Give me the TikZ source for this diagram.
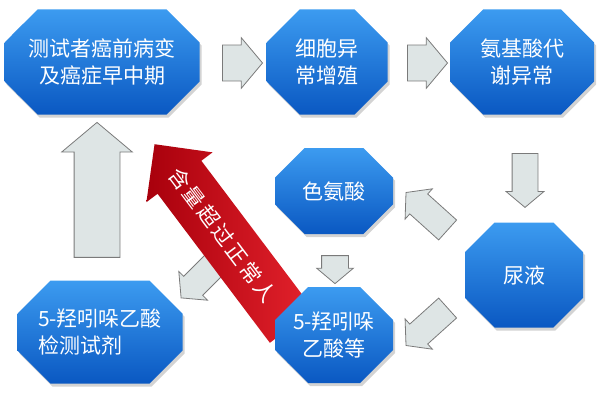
\documentclass[tikz,border=0pt]{standalone}
\usepackage{fontspec}
\setmainfont{Noto Sans CJK SC}
\newfontfamily\redfont[LetterSpace=12]{Noto Sans CJK SC}
\usetikzlibrary{shapes.misc,shapes.arrows,shadows}
\definecolor{boxtop}{HTML}{3C9BF0}
\definecolor{boxbot}{HTML}{0A58C2}
\definecolor{arrfill}{HTML}{DEE5E5}
\definecolor{arrline}{HTML}{7A7A7A}
\definecolor{redtip}{HTML}{A8000C}
\definecolor{redtail}{HTML}{E4222C}
\tikzset{
  blk/.style={chamfered rectangle, chamfered rectangle xsep=13pt, chamfered rectangle ysep=20pt,
    top color=boxtop, bottom color=boxbot, text=white, align=center,
    font=\fontsize{21}{27}\selectfont, inner sep=0pt,
    drop shadow={shadow xshift=2pt, shadow yshift=-3pt, opacity=.35}},
  garrow/.style={single arrow, fill=arrfill, draw=arrline, line width=0.8pt,
    single arrow tip angle=100, inner xsep=0pt}
}
\begin{document}
\begin{tikzpicture}[x=1pt,y=1pt]
\useasboundingbox (0,0) rectangle (600,400);
% gray block arrows
\node[garrow, minimum height=40pt, inner ysep=17.5pt, single arrow head extend=7.5pt] (a12) at (235,337){};
\node[garrow, minimum height=40pt, inner ysep=17.5pt, single arrow head extend=7.5pt] (a23) at (420,337){};
\node[garrow, minimum height=54pt, inner ysep=12.5pt, single arrow head extend=6pt, rotate=-90] (a3u) at (525,225){};
\node[garrow, minimum height=56pt, inner ysep=13pt, single arrow head extend=7pt, rotate=138] (aut) at (431,185){};
\node[garrow, minimum height=56pt, inner ysep=13pt, single arrow head extend=7pt, rotate=-138] (auh) at (431,77){};
\node[garrow, minimum height=28pt, inner ysep=13pt, single arrow head extend=5pt, rotate=-90] (ath) at (335,136){};
\node[garrow, minimum height=62pt, inner ysep=13pt, single arrow head extend=7pt, rotate=-135] (ahr) at (207,128){};
\node[garrow, minimum height=135pt, inner ysep=22.5pt, single arrow head extend=12.5pt, rotate=90] (aup) at (97,200.5){};
% red arrow
\node[single arrow, shape border rotate=180, rotate=-53, minimum height=228pt,
  single arrow head extend=14pt, single arrow tip angle=90, inner xsep=0pt, inner ysep=17.5pt,
  left color=redtip, right color=redtail, text=white, font=\redfont\fontsize{21}{21}\selectfont] (excess) at (231.4,153.8){含量超过正常人\kern28pt};
% blue boxes
\node[blk, minimum width=195pt, minimum height=105pt] (early) at (102,338){测试者癌前病变\\及癌症早中期};
\node[blk, minimum width=121pt, minimum height=105pt] (prolif) at (327,338){细胞异\\常增殖};
\node[blk, minimum width=144pt, minimum height=105pt] (amino) at (522,338){氨基酸代\\谢异常};
\node[blk, minimum width=118pt, minimum height=86pt] (trp) at (334,209){色氨酸};
\node[blk, minimum width=118pt, minimum height=105pt] (urine) at (524,125){尿液};
\node[blk, minimum width=118pt, minimum height=96pt] (hiaa) at (334,65){5-羟吲哚\\乙酸等};
\node[blk, minimum width=165pt, minimum height=103pt, align=left] (reagent) at (100,68){5-羟吲哚乙酸\\检测试剂};
\end{tikzpicture}
\end{document}
